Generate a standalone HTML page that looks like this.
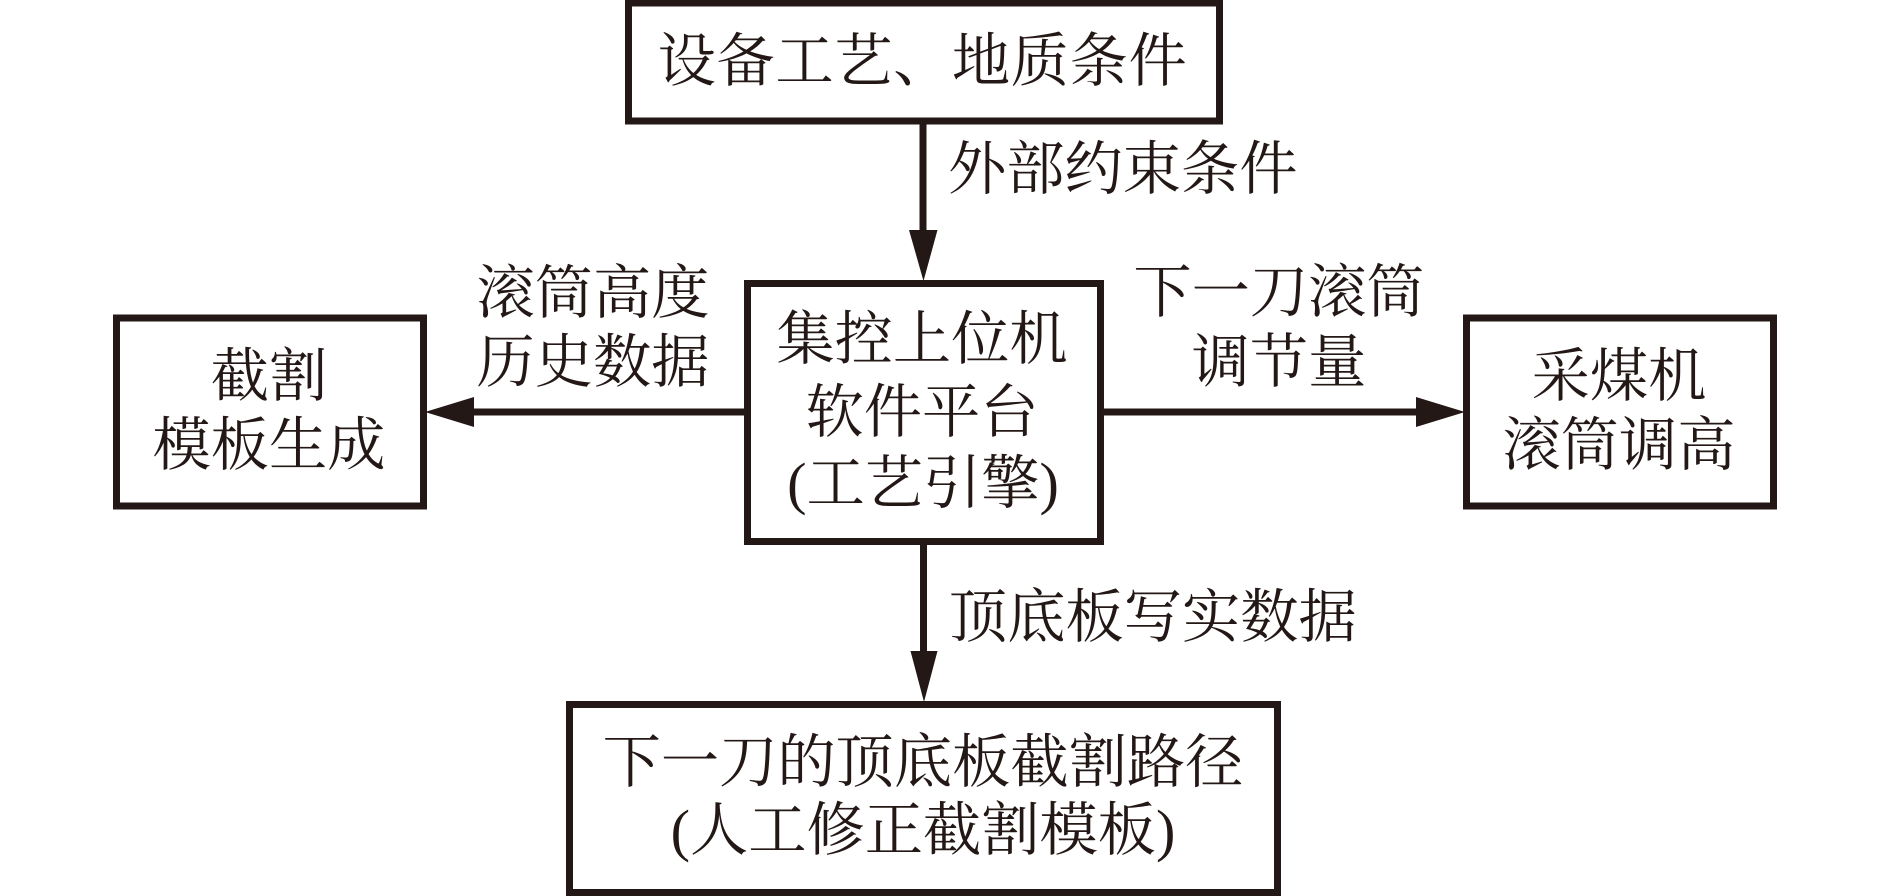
<!DOCTYPE html>
<html lang="zh">
<head>
<meta charset="utf-8">
<title>工艺引擎框图</title>
<style>
html,body{margin:0;padding:0;background:#fff;width:1890px;height:896px;overflow:hidden}
svg{display:block}
text{font-family:"Liberation Serif","Noto Serif CJK SC",serif;font-size:58.25px;fill:#231815;text-anchor:middle}
.s{text-anchor:start}
rect{fill:#fff;stroke:#231815;stroke-width:7}
line{stroke:#231815;stroke-width:7}
polygon{fill:#231815}
</style>
</head>
<body>
<svg width="1890" height="896" viewBox="0 0 1890 896" xmlns="http://www.w3.org/2000/svg">
  <rect x="628.5" y="3" width="591" height="118"/>
  <rect x="747.5" y="283.5" width="353" height="258"/>
  <rect x="116.5" y="318" width="307" height="188"/>
  <rect x="1466.5" y="318" width="307" height="188"/>
  <rect x="569.5" y="704.5" width="708" height="188"/>

  <line x1="923" y1="124" x2="923" y2="236"/>
  <polygon points="909,230 937.500,230 923.500,281"/>
  <line x1="923.500" y1="545" x2="923.500" y2="657"/>
  <polygon points="910.500,651 937.500,651 924,702"/>
  <line x1="744" y1="412" x2="470" y2="412"/>
  <polygon points="474,397 474,427 425,412"/>
  <line x1="1104" y1="412" x2="1420" y2="412"/>
  <polygon points="1416,397 1416,427 1465,412"/>

  <text x="922.500" y="81" letter-spacing="0.6">设备工艺、地质条件</text>
  <text class="s" x="948" y="189">外部约束条件</text>
  <text x="593" y="313">滚筒高度</text>
  <text x="593" y="382">历史数据</text>
  <text x="269" y="396">截割</text>
  <text x="269" y="465">模板生成</text>
  <text x="1279" y="312">下一刀滚筒</text>
  <text x="1279" y="382">调节量</text>
  <text x="1619" y="396">采煤机</text>
  <text x="1619" y="465">滚筒调高</text>
  <text x="922" y="359">集控上位机</text>
  <text x="922" y="432">软件平台</text>
  <text x="923" y="503">(工艺引擎)</text>
  <text class="s" x="949" y="637">顶底板写实数据</text>
  <text x="923" y="782">下一刀的顶底板截割路径</text>
  <text x="923" y="850">(人工修正截割模板)</text>
</svg>
</body>
</html>
